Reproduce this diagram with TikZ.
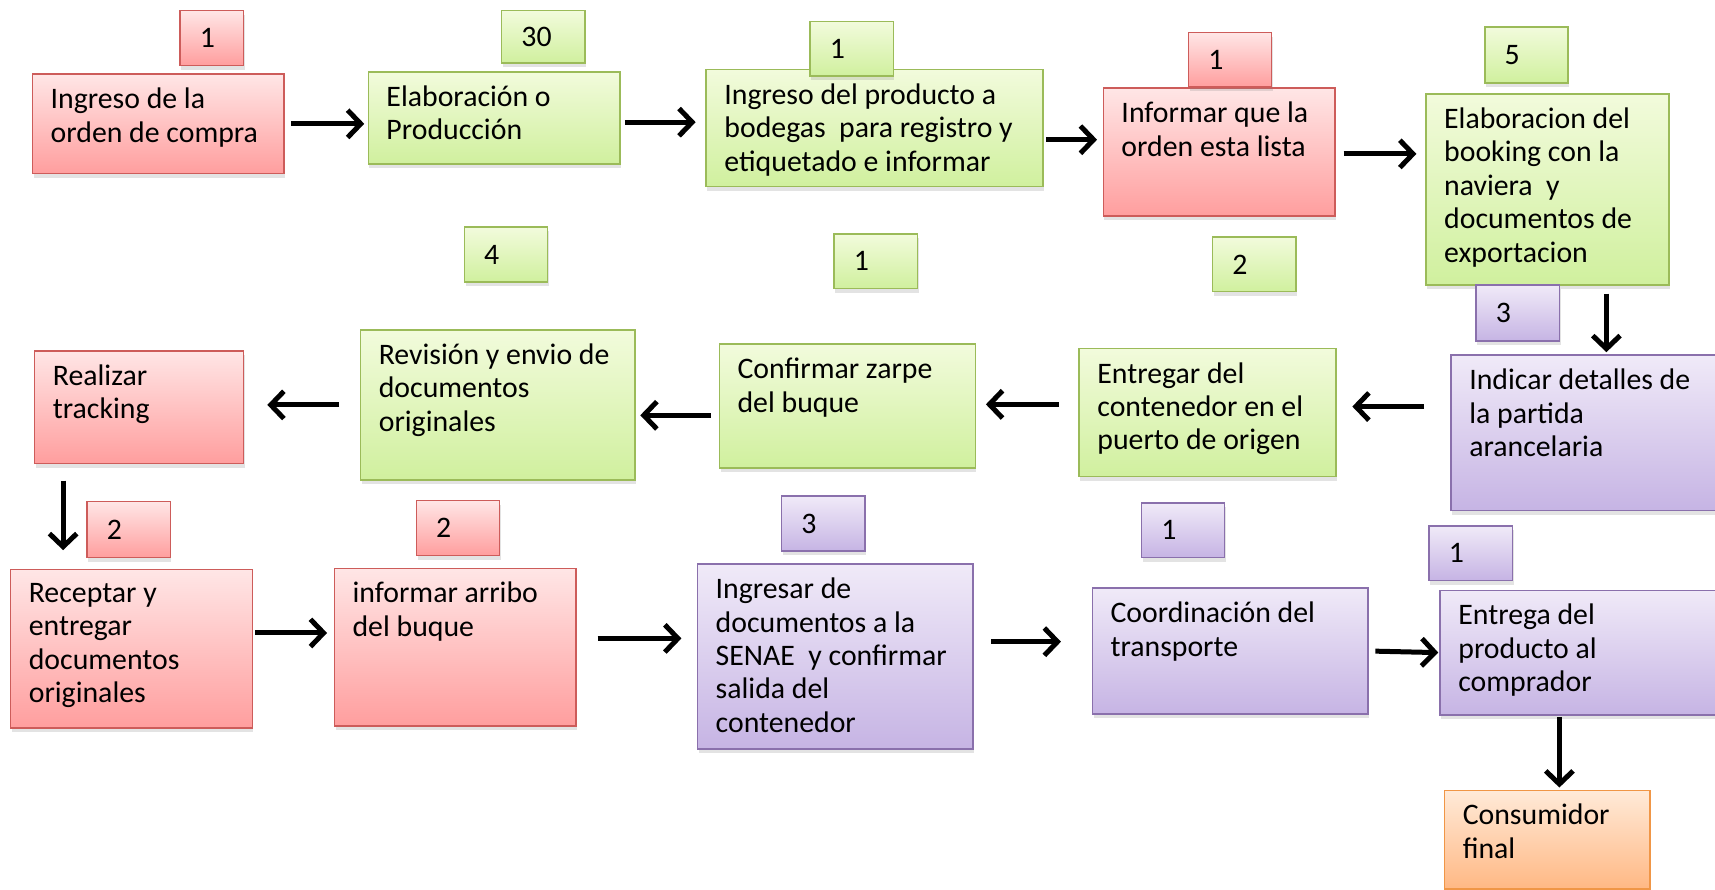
\documentclass[tikz,border=0pt]{standalone}
\usepackage{fontspec}
\setmainfont{Carlito}
\usetikzlibrary{positioning}
\usetikzlibrary{shadows}
\usetikzlibrary{arrows.meta}

\definecolor{redtop}{RGB}{255,230,230}
\definecolor{redbot}{RGB}{255,158,158}
\definecolor{redline}{RGB}{205,92,90}
\definecolor{greentop}{RGB}{242,251,220}
\definecolor{greenbot}{RGB}{208,240,158}
\definecolor{greenline}{RGB}{155,187,89}
\definecolor{violettop}{RGB}{240,234,248}
\definecolor{violetbot}{RGB}{198,180,228}
\definecolor{violetline}{RGB}{138,112,172}
\definecolor{orangetop}{RGB}{255,234,216}
\definecolor{orangebot}{RGB}{255,184,132}
\definecolor{orangeline}{RGB}{240,150,70}

\tikzset{
	stepbox/.style={draw, line width=0.8pt, anchor=north west, inner sep=0pt,
		drop shadow={opacity=0.22,shadow xshift=0.6pt,shadow yshift=-2.2pt}},
	redbox/.style={stepbox, draw=redline, top color=redtop, bottom color=redbot},
	greenbox/.style={stepbox, draw=greenline, top color=greentop, bottom color=greenbot},
	violetbox/.style={stepbox, draw=violetline, top color=violettop, bottom color=violetbot},
	orangebox/.style={stepbox, draw=orangeline, top color=orangetop, bottom color=orangebot},
	steptext/.style={anchor=north west, align=left, inner xsep=0.34cm, inner ysep=0.26cm},
	numbox/.style={text width=0.8cm, align=left, inner xsep=0.36cm, inner ysep=0pt},
	flow/.style={line width=2.6pt, -{Straight Barb[length=2.4mm,width=5mm]}}
}

\begin{document}
\begin{tikzpicture}[font=\fontsize{15.5}{17.4}\selectfont]
		\useasboundingbox (0,0) rectangle (31.36,-16.26);

		% first row
		\node[redbox, minimum width=4.6cm, minimum height=1.82cm] (A1) at (0.58,-1.34) {};
		\node[steptext] (A1t) at (A1.north west) {Ingreso de la\\orden de compra};
		\node[redbox, numbox, text width=0.44cm, minimum height=1cm] (n1) at (3.28,-0.18) {1};

		\node[greenbox, minimum width=4.6cm, minimum height=1.68cm] (A2) at (6.72,-1.30) {};
		\node[steptext] (A2t) at (A2.north west) {Elaboración o\\Producción};
		\node[greenbox, numbox, minimum height=0.96cm] (n2) at (9.16,-0.18) {30};

		\node[greenbox, minimum width=6.16cm, minimum height=2.14cm] (A3) at (12.90,-1.26) {};
		\node[steptext] (A3t) at (A3.north west) {Ingreso del producto a\\bodegas\ \ para registro y\\etiquetado e informar};
		\node[greenbox, numbox, minimum height=1cm] (n3) at (14.80,-0.38) {1};

		\node[redbox, minimum width=4.24cm, minimum height=2.34cm] (A4) at (20.16,-1.60) {};
		\node[steptext] (A4t) at (A4.north west) {Informar que la\\orden esta lista};
		\node[redbox, numbox, minimum height=1cm] (n4) at (21.72,-0.58) {1};

		\node[greenbox, minimum width=4.44cm, minimum height=3.5cm] (A5) at (26.06,-1.70) {};
		\node[steptext] (A5t) at (A5.north west) {Elaboracion del\\booking con la\\naviera\ \ y\\documentos de\\exportacion};
		\node[greenbox, numbox, minimum height=1.02cm] (n5) at (27.14,-0.48) {5};

		% second row
		\node[greenbox, numbox, minimum height=1cm] (m1) at (8.48,-4.14) {4};
		\node[greenbox, numbox, minimum height=1cm] (m2) at (15.24,-4.26) {1};
		\node[greenbox, numbox, minimum height=1cm] (m3) at (22.16,-4.32) {2};
		\node[violetbox, numbox, minimum height=1.02cm] (m4) at (26.98,-5.20) {3};

		\node[redbox, minimum width=3.82cm, minimum height=2.06cm] (B1) at (0.62,-6.40) {};
		\node[steptext] (B1t) at (B1.north west) {Realizar\\tracking};

		\node[greenbox, minimum width=5.02cm, minimum height=2.74cm] (B2) at (6.58,-6.02) {};
		\node[steptext] (B2t) at (B2.north west) {Revisión y envio de\\documentos\\originales};

		\node[greenbox, minimum width=4.68cm, minimum height=2.26cm] (B3) at (13.14,-6.28) {};
		\node[steptext] (B3t) at (B3.north west) {Confirmar zarpe\\del buque};

		\node[greenbox, minimum width=4.70cm, minimum height=2.34cm] (B4) at (19.72,-6.36) {};
		\node[steptext] (B4t) at (B4.north west) {Entregar del\\contenedor\ en el\\puerto de origen};

		\node[violetbox, minimum width=5.08cm, minimum height=2.84cm] (B5) at (26.52,-6.48) {};
		\node[steptext] (B5t) at (B5.north west) {Indicar\ detalles de\\la partida\\arancelaria};

		% third row
		\node[redbox, numbox, minimum height=1.02cm] (k1) at (1.58,-9.16) {2};
		\node[redbox, numbox, minimum height=1cm] (k2) at (7.60,-9.14) {2};
		\node[violetbox, numbox, minimum height=1cm] (k3) at (14.28,-9.06) {3};
		\node[violetbox, numbox, minimum height=1cm] (k4) at (20.86,-9.18) {1};
		\node[violetbox, numbox, minimum height=1cm] (k5) at (26.12,-9.60) {1};

		\node[redbox, minimum width=4.42cm, minimum height=2.9cm] (C1) at (0.18,-10.40) {};
		\node[steptext] (C1t) at (C1.north west) {Receptar y\\entregar\\documentos\\originales};

		\node[redbox, minimum width=4.42cm, minimum height=2.88cm] (C2) at (6.10,-10.38) {};
		\node[steptext] (C2t) at (C2.north west) {informar arribo\\del buque};

		\node[violetbox, minimum width=5.04cm, minimum height=3.38cm] (C3) at (12.74,-10.30) {};
		\node[steptext] (C3t) at (C3.north west) {Ingresar de\\documentos a la\\SENAE\ \ y confirmar\\salida del\\contenedor};

		\node[violetbox, minimum width=5.04cm, minimum height=2.3cm] (C4) at (19.96,-10.74) {};
		\node[steptext] (C4t) at (C4.north west) {Coordinación del\\transporte};

		\node[violetbox, minimum width=5.3cm, minimum height=2.28cm] (C5) at (26.32,-10.78) {};
		\node[steptext] (C5t) at (C5.north west) {Entrega del\\producto al\\comprador};

		\node[orangebox, minimum width=3.76cm, minimum height=1.8cm] (D) at (26.40,-14.44) {};
		\node[steptext] (Dt) at (D.north west) {Consumidor\\final};

		% arrows
		\draw[flow, shorten <=0.12cm, shorten >=0.06cm] (A1.east) -- (A1.east -| A2.west);
		\draw[flow, shorten <=0.08cm, shorten >=0.18cm] ([yshift=-0.08cm]A2.east) -- ([yshift=-0.08cm]A2.east -| A3.west);
		\draw[flow, shorten <=0.04cm, shorten >=0.10cm] ([yshift=-0.21cm]A3.east) -- ([yshift=-0.21cm]A3.east -| A4.west);
		\draw[flow, shorten <=0.14cm, shorten >=0.16cm] ([yshift=-0.03cm]A4.east) -- ([yshift=-0.03cm]A4.east -| A5.west);
		\draw[flow, shorten <=0.14cm, shorten >=0.04cm] ([xshift=1.08cm]A5.south) -- ([xshift=1.08cm]A5.south |- B5.north);
		\draw[flow, shorten <=0.48cm, shorten >=0.28cm] ([yshift=0.48cm]B5.west) -- ([yshift=0.48cm]B5.west -| B4.east);
		\draw[flow, shorten <=0.36cm, shorten >=0.18cm] ([yshift=0.15cm]B4.west) -- ([yshift=0.15cm]B4.west -| B3.east);
		\draw[flow, shorten <=0.14cm, shorten >=0.08cm] ([yshift=-0.17cm]B3.west) -- ([yshift=-0.17cm]B3.west -| B2.east);
		\draw[flow, shorten <=0.38cm, shorten >=0.42cm] (B2.west) -- (B2.west -| B1.east);
		\draw[flow, shorten <=0.30cm, shorten >=0.34cm] ([xshift=-1.39cm]B1.south) -- ([xshift=-1.39cm]B1.south |- C1.north);
		\draw[flow, shorten <=0.04cm, shorten >=0.12cm] ([yshift=0.29cm]C1.east) -- ([yshift=0.29cm]C1.east -| C2.west);
		\draw[flow, shorten <=0.38cm, shorten >=0.28cm] ([yshift=0.16cm]C2.east) -- ([yshift=0.16cm]C2.east -| C3.west);
		\draw[flow, shorten <=0.32cm, shorten >=0.56cm] ([yshift=0.27cm]C3.east) -- ([yshift=0.27cm]C3.east -| C4.west);
		\draw[flow, shorten <=0.12cm, shorten >=0.02cm] (C4.east) -- (C5.west);
		\draw[flow, shorten <=0.02cm, shorten >=0.04cm] ([xshift=0.22cm]D.north |- C5.south) -- ([xshift=0.22cm]D.north);
	\end{tikzpicture}
\end{document}
